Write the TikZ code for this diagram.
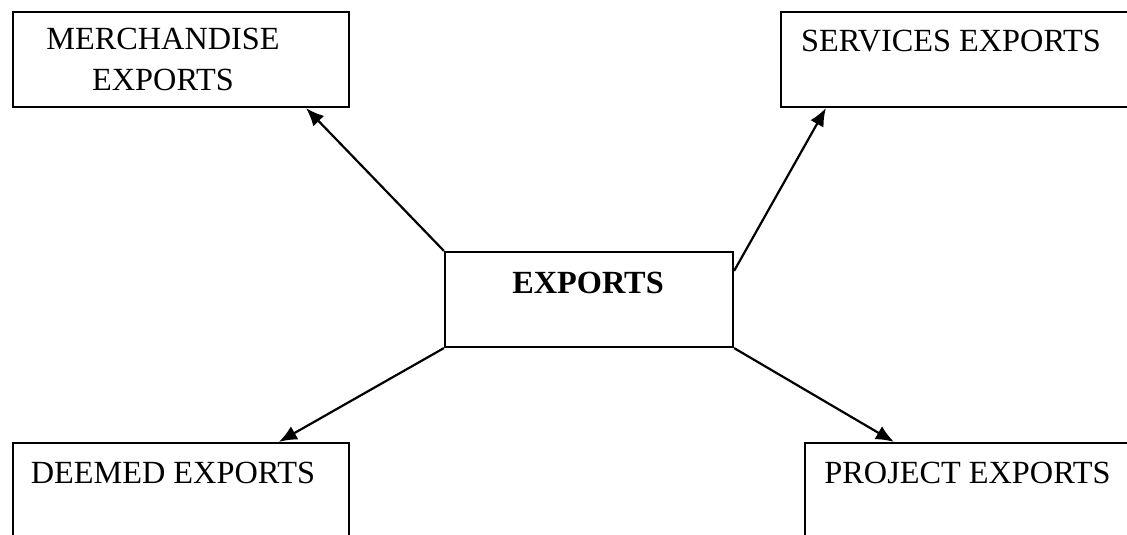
\documentclass[tikz,border=0pt]{standalone}
\usepackage{fontspec}
\setmainfont{Liberation Serif}
\usetikzlibrary{arrows.meta}
\usetikzlibrary{calc}
\tikzstyle{line} = [draw, 
-{Latex[length=18pt,width=15pt]}, 
line width=2.2pt]

\begin{document}
\begin{tikzpicture}[x=1pt, y=-1pt,
		box/.style={draw, rectangle, line width=2.2pt, inner sep=0pt},
		txt/.style={font=\fontsize{32.3}{40}\selectfont, inner sep=0pt,
			anchor=base, align=center}]
		\useasboundingbox (0,0) rectangle (1127,535);
		%% Boxes
		\node [box, minimum width=288pt, minimum height=95pt] at (589,299.5) (E) {};
		\node [box, minimum width=336pt, minimum height=95pt] at (181,59.5) (M) {};
		\node [box, minimum width=359pt, minimum height=95pt] at (960.5,59.5) (S) {};
		\node [box, minimum width=336pt, minimum height=117pt] at (181,501.5) (D) {};
		\node [box, minimum width=335pt, minimum height=117pt] at (972.5,501.5) (P) {};
		%% Texts
		\node [txt] at (588,293) (Et) {\textbf{EXPORTS}};
		\node [txt] at (163,90) (Mt) {MERCHANDISE\\EXPORTS};
		\node [txt] at (951,52) (St) {SERVICES EXPORTS};
		\node [txt] at (173,483) (Dt) {DEEMED EXPORTS};
		\node [txt] at (967.5,483) (Pt) {PROJECT EXPORTS};
		%% Flows
		\path [line] (E.north west) -- ($(M.south east)+(-44pt,0pt)$);
		\path [line] ($(E.north east)+(0pt,-20pt)$) -- ($(S.south west)+(46pt,0pt)$);
		\path [line] (E.south west) -- ($(D.north west)+(267pt,0pt)$);
		\path [line] (E.south east) -- ($(P.north west)+(90pt,0pt)$);
	\end{tikzpicture}
\end{document}
